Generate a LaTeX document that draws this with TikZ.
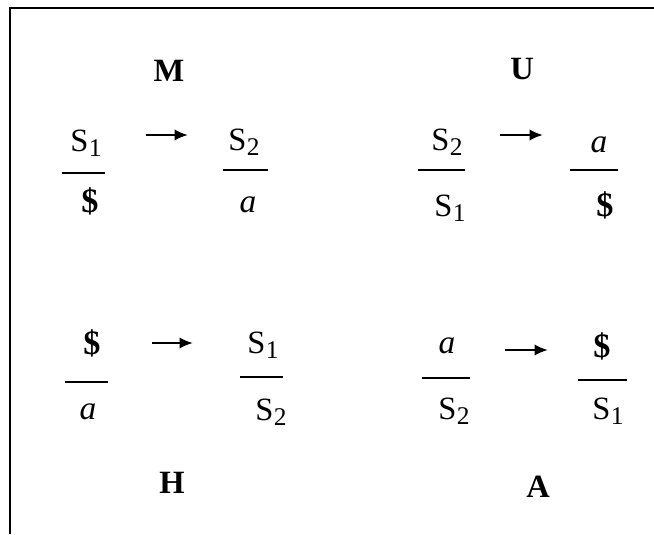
\documentclass[tikz,border=0pt]{standalone}
\usepackage{fontspec}
\setmainfont{Liberation Serif}
\usetikzlibrary{arrows.meta}

\newcommand{\Ssub}[1]{S\kern0.2pt\raisebox{-0.3ex}{\fontsize{14.5}{15}\selectfont #1}}

\begin{document}
\begin{tikzpicture}[
  every node/.style={font=\fontsize{18.5}{21}\selectfont, inner sep=0pt, anchor=base},
  letter/.style={font=\fontsize{18.5}{21}\selectfont\bfseries},
  dol/.style={font=\fontsize{19.5}{21}\selectfont\bfseries},
  ita/.style={font=\fontsize{19}{22}\selectfont\itshape},
  bar/.style={line width=1.3pt},
  arrow/.style={-{Latex[length=2.7mm, width=2.3mm]}, line width=1.3pt},
]
  \useasboundingbox (0,0) rectangle (13.08,10.68);

  % Frame
  \draw[line width=1.6pt] (0.2,0) -- (0.2,10.52) -- (13.08,10.52);

  % Names
  \node[letter] (nameM) at (3.38, 9.04) {M};
  \node[letter] (nameU) at (10.44, 9.08) {U};
  \node[letter] (nameH) at (3.44, 0.82) {H};
  \node[letter] (nameA) at (10.76, 0.74) {A};

  % M
  \node (mTopL) at (1.72, 7.64) {\Ssub{1}};
  \node[dol] (mBotL) at (1.80, 6.42) {\$};
  \draw[bar] (1.24, 7.22) -- (2.10, 7.22);
  \node (mTopR) at (4.88, 7.66) {\Ssub{2}};
  \node[ita] (mBotR) at (4.96, 6.42) {a};
  \draw[bar] (4.46, 7.28) -- (5.36, 7.28);
  \coordinate (mFrom) at (2.92, 7.98);
  \coordinate (mTo) at (3.76, 7.98);
  \draw[arrow] (mFrom) -- (mTo);

  % U
  \node (uTopL) at (8.94, 7.66) {\Ssub{2}};
  \node (uBotL) at (9.00, 6.34) {\Ssub{1}};
  \draw[bar] (8.36, 7.28) -- (9.30, 7.28);
  \node[ita] (uTopR) at (11.98, 7.62) {a};
  \node[dol] (uBotR) at (12.10, 6.34) {\$};
  \draw[bar] (11.40, 7.28) -- (12.36, 7.28);
  \coordinate (uFrom) at (10.00, 7.98);
  \coordinate (uTo) at (10.86, 7.98);
  \draw[arrow] (uFrom) -- (uTo);

  % H
  \node[dol] (hTopL) at (1.84, 3.58) {\$};
  \node[ita] (hBotL) at (1.76, 2.28) {a};
  \draw[bar] (1.30, 3.04) -- (2.16, 3.04);
  \node (hTopR) at (5.26, 3.60) {\Ssub{1}};
  \node (hBotR) at (5.42, 2.26) {\Ssub{2}};
  \draw[bar] (4.80, 3.14) -- (5.66, 3.14);
  \coordinate (hFrom) at (3.04, 3.82);
  \coordinate (hTo) at (3.86, 3.82);
  \draw[arrow] (hFrom) -- (hTo);

  % A
  \node[ita] (aTopL) at (8.94, 3.60) {a};
  \node (aBotL) at (9.08, 2.28) {\Ssub{2}};
  \draw[bar] (8.44, 3.12) -- (9.40, 3.12);
  \node[dol] (aTopR) at (12.04, 3.54) {\$};
  \node (aBotR) at (12.16, 2.28) {\Ssub{1}};
  \draw[bar] (11.56, 3.08) -- (12.54, 3.08);
  \coordinate (aFrom) at (10.10, 3.68);
  \coordinate (aTo) at (10.96, 3.68);
  \draw[arrow] (aFrom) -- (aTo);
\end{tikzpicture}
\end{document}
